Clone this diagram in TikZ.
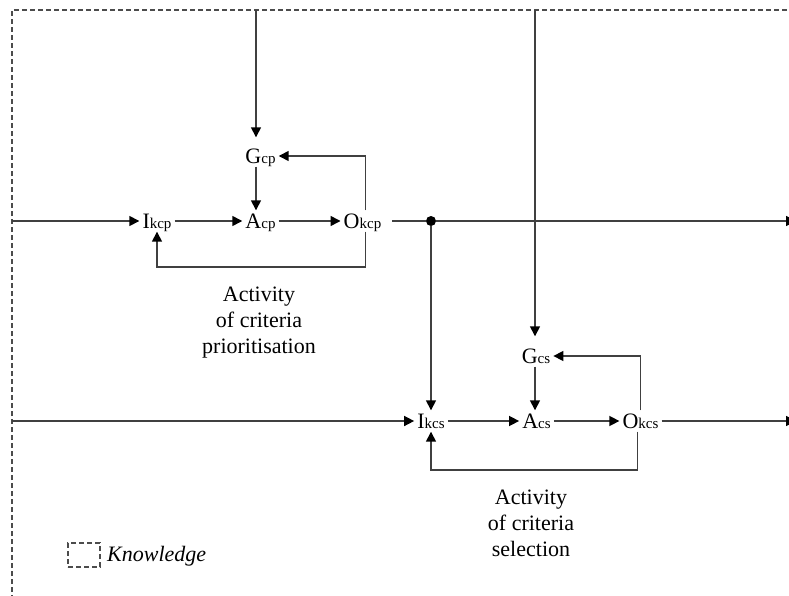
\documentclass[tikz,border=0pt]{standalone}
\usepackage{fontspec}
\setmainfont{Liberation Serif}
\usetikzlibrary{arrows.meta}
\newcommand\sbs[1]{{\fontsize{15}{15}\selectfont #1}}
\tikzset{
  wire/.style={draw=black!75, line width=1.5pt},
  arr/.style={wire, -{Triangle[length=10pt,width=10pt,fill=black,color=black]}},
  sym/.style={font=\fontsize{22}{22}\selectfont, inner xsep=3pt, inner ysep=3pt,
              text height=15pt, text depth=0pt},
  caption/.style={font=\fontsize{22}{26}\selectfont, align=center, inner sep=0pt},
  kbound/.style={draw=black!70, line width=1.3pt, dash pattern=on 5pt off 3pt},
}
\begin{document}
\begin{tikzpicture}[x=1pt, y=-1pt]
\useasboundingbox (0,0) rectangle (789,596);

% knowledge boundary
\draw[kbound] (12,600) -- (12,10) -- (800,10);

% free ends
\coordinate (t1) at (256,10);
\coordinate (t2) at (535,10);
\coordinate (in1) at (12,221);
\coordinate (in2) at (12,421);
\coordinate (out1) at (796,221);
\coordinate (out2) at (796,421);

% activity of criteria prioritisation
\node[sym] (Gcp)  at (260.5,156) {G\sbs{cp}};
\node[sym] (Ikcp) at (157,221) {I\sbs{kcp}};
\node[sym] (Acp)  at (260.5,221) {A\sbs{cp}};
\node[sym] (Okcp) at (362.5,221) {O\sbs{kcp}};
\node[circle, fill=black, inner sep=0pt, minimum size=10pt] (dot) at (431,221) {};

% activity of criteria selection
\node[sym] (Gcs)  at (536,356) {G\sbs{cs}};
\node[sym] (Ikcs) at (431,421) {I\sbs{kcs}};
\node[sym] (Acs)  at (536.5,421) {A\sbs{cs}};
\node[sym] (Okcs) at (640.5,421) {O\sbs{kcs}};

% captions
\node[caption] (cap1) at (259,323) {Activity\\of criteria\\prioritisation};
\node[caption] (cap2) at (531,523) {Activity\\of criteria\\selection};

% legend
\node[kbound, minimum width=32pt, minimum height=24pt, inner sep=0pt] (leg) at (84,555) {};
\node[font=\fontsize{22}{22}\selectfont\itshape, anchor=west, inner sep=0pt] (legt) at (107,556) {Knowledge};

% connectors, prioritisation
\draw[arr, shorten >=8pt] (t1) -- (Gcp.north -| t1);
\draw[arr] (Gcp.south -| t1) -- (Acp.north -| t1);
\draw[arr] (in1) -- (Ikcp);
\draw[arr] (Ikcp) -- (Acp);
\draw[arr] (Acp) -- (Okcp);
\draw[wire, shorten <=8pt] (Okcp) -- (dot);
\draw[arr] (dot) -- (out1);
\draw[arr] ([xshift=3pt]Okcp.north) |- (Gcp.east);
\draw[arr] ([xshift=3pt]Okcp.south) -- ++(0,35.5) -| (Ikcp.south);
\draw[arr] (dot) -- (Ikcs.north -| dot);

% connectors, selection
\draw[arr, shorten >=9pt] (t2) -- (Gcs.north -| t2);
\draw[arr] (Gcs.south -| t2) -- (Acs.north -| t2);
\draw[arr] (in2) -- (Ikcs);
\draw[arr] (Ikcs) -- (Acs);
\draw[arr] (Acs) -- (Okcs);
\draw[arr] (Okcs) -- (out2);
\draw[arr] (Okcs.north) |- (Gcs.east);
\draw[arr] ([xshift=-3pt]Okcs.south) -- ++(0,38.5) -| (Ikcs.south);
\end{tikzpicture}
\end{document}
